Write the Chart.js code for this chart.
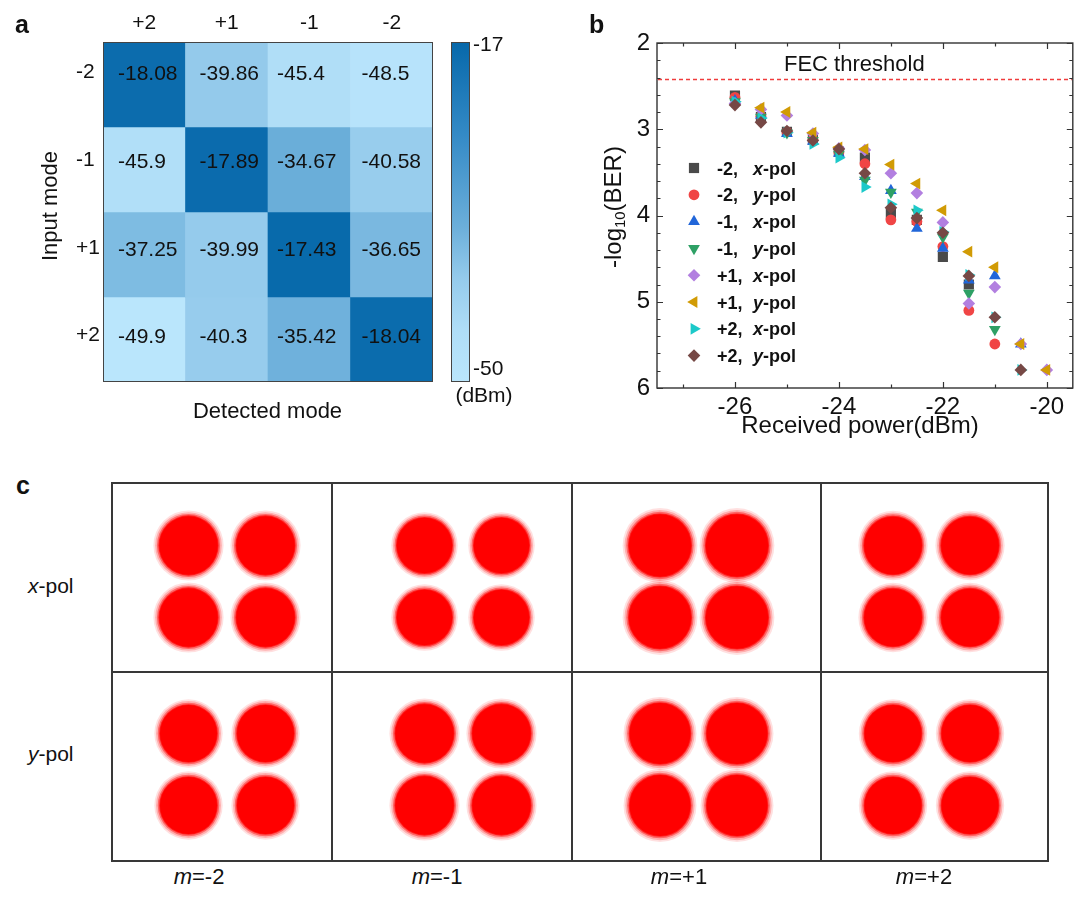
<!DOCTYPE html>
<html><head><meta charset="utf-8">
<script src="https://cdn.jsdelivr.net/npm/chart.js"></script>
<style>
html,body{margin:0;padding:0;background:#fff;}
#root{position:relative;width:1080px;height:905px;overflow:hidden;background:#fff;font-family:Arial,"Liberation Sans",Helvetica,sans-serif;color:#111;}
canvas{position:absolute;display:block;}
.t{position:absolute;white-space:nowrap;line-height:1;}
.t sub{font-size:0.62em;line-height:0;vertical-align:-0.28em;}
.ln{position:absolute;background:#383838;z-index:5;}
</style></head>
<body><div id="root"></div>
<script>
// ================= DATA =================
// Panel a: received power (dBm); rows = input mode, columns = detected mode
const detectedModes = ['+2', '+1', '-1', '-2'];
const inputModes = ['-2', '-1', '+1', '+2'];
const powerInputM2 = [-18.08, -39.86, -45.4, -48.5];
const powerInputM1 = [-45.9, -17.89, -34.67, -40.58];
const powerInputP1 = [-37.25, -39.99, -17.43, -36.65];
const powerInputP2 = [-49.9, -40.3, -35.42, -18.04];
const colorbarTop = -17, colorbarBottom = -50;

// Panel b: -log10(BER) versus received power (dBm)
const receivedPower = [-26, -25.5, -25, -24.5, -24, -23.5, -23, -22.5, -22, -21.5, -21, -20.5, -20];
const berM2x = [2.61, 2.86, 3.03, 3.12, 3.26, 3.33, 3.98, 4.05, 4.48, 4.80, null, null, null];
const berM2y = [2.63, 2.85, 3.03, 3.12, 3.27, 3.40, 4.05, 4.07, 4.36, 5.10, 5.49, null, null];
const berM1x = [2.67, 2.84, 3.05, 3.14, 3.28, 3.55, 3.71, 4.15, 4.38, 4.75, 4.70, 5.49, null];
const berM1y = [2.68, 2.86, 3.04, 3.13, 3.29, 3.59, 3.73, 3.96, 4.25, 4.90, 5.32, null, null];
const berP1x = [2.70, 2.77, 2.84, 3.05, 3.22, 3.24, 3.51, 3.74, 4.08, 5.02, 4.83, 5.49, 5.79];
const berP1y = [null, 2.75, 2.80, 3.04, 3.21, 3.23, 3.41, 3.63, 3.94, 4.42, 4.60, 5.49, 5.79];
const berP2x = [2.68, 2.87, 3.04, 3.17, 3.33, 3.67, 3.87, 3.94, 4.19, 4.69, 5.18, 5.79, null];
const berP2y = [2.72, 2.92, 3.02, 3.13, 3.23, 3.51, 3.91, 4.03, 4.20, 4.70, 5.18, 5.79, null];
const seriesModes = ['-2', '-2', '-1', '-1', '+1', '+1', '+2', '+2'];
const seriesPols = ['x', 'y', 'x', 'y', 'x', 'y', 'x', 'y'];
const fecThreshold = 2.42;
const xMajorTicks = [-26, -24, -22, -20];
const xMinorTicks = [-27, -25, -23, -21];
const yMajorTicks = [2, 3, 4, 5, 6];

// Panel c: QPSK constellations
const constModes = ['-2', '-1', '+1', '+2'];
const polRows = ['x', 'y'];
const symbolI = [-1, 1, -1, 1];
const symbolQ = [1, 1, -1, -1];
const spreadXpol = [0.76, 0.72, 0.81, 0.75];
const spreadYpol = [0.74, 0.76, 0.79, 0.74];

// ================= STYLE / LAYOUT =================
Chart.defaults.font.family = 'Arial, "Liberation Sans", Helvetica, sans-serif';
Chart.defaults.color = '#111';
const root = document.getElementById('root');

function mkCanvas(left, top, w, h, z) {
  const c = document.createElement('canvas');
  c.width = w; c.height = h;
  c.style.left = left + 'px'; c.style.top = top + 'px';
  c.style.width = w + 'px'; c.style.height = h + 'px';
  if (z) c.style.zIndex = z;
  root.appendChild(c);
  return c;
}
function addText(html, x, baseline, size, o) {
  o = o || {};
  const d = document.createElement('div');
  d.className = 't'; d.innerHTML = html;
  d.style.fontSize = size + 'px';
  if (o.bold) d.style.fontWeight = 'bold';
  d.style.left = x + 'px';
  d.style.top = (baseline - 0.8465 * size) + 'px';
  if (o.center) d.style.transform = 'translateX(-50%)';
  root.appendChild(d);
  return d;
}
function addRotText(html, cx, cy, size) {
  const d = document.createElement('div');
  d.className = 't'; d.innerHTML = html;
  d.style.fontSize = size + 'px';
  d.style.left = cx + 'px'; d.style.top = cy + 'px';
  d.style.transform = 'translate(-50%,-50%) rotate(-90deg)';
  root.appendChild(d);
  return d;
}
function addLine(x, y, w, h) {
  const d = document.createElement('div');
  d.className = 'ln';
  d.style.left = x + 'px'; d.style.top = y + 'px';
  d.style.width = w + 'px'; d.style.height = h + 'px';
  root.appendChild(d);
}

// colour map for panel a
const cmapStops = [
  [-50, [186, 230, 252]], [-45, [175, 221, 247]], [-40, [149, 203, 236]],
  [-35, [108, 175, 218]], [-26, [52, 138, 198]], [-17, [6, 104, 170]]
];
function colorFor(v) {
  if (v <= cmapStops[0][0]) return 'rgb(' + cmapStops[0][1].join(',') + ')';
  for (let i = 1; i < cmapStops.length; i++) {
    if (v <= cmapStops[i][0]) {
      const [v0, c0] = cmapStops[i - 1], [v1, c1] = cmapStops[i];
      const t = (v - v0) / (v1 - v0);
      return 'rgb(' + c0.map((c, k) => Math.round(c + (c1[k] - c) * t)).join(',') + ')';
    }
  }
  return 'rgb(' + cmapStops[cmapStops.length - 1][1].join(',') + ')';
}

// ================= PANEL A =================
const powerRows = [powerInputM2, powerInputM1, powerInputP1, powerInputP2];
const cellTextInset = [15, 14, 9, 11];
const rowTextDrift = [-12, -9.5, -6.5, -4.5];   // px, label placement within a row
const CELL_H = 85;
const heatPlugin = {
  id: 'heatPlugin',
  afterDatasetsDraw(chart) {
    const ctx = chart.ctx, a = chart.chartArea;
    ctx.save();
    ctx.font = '21px Arial, "Liberation Sans", sans-serif';
    ctx.fillStyle = '#111';
    ctx.textAlign = 'left';
    ctx.textBaseline = 'alphabetic';
    powerRows.forEach((row, r) => {
      const meta = chart.getDatasetMeta(r);
      row.forEach((v, c) => {
        const el = meta.data[c];
        const p = el.getProps(['x', 'y', 'base', 'width'], true);
        const cy = (p.y + p.base) / 2;
        ctx.fillText(String(v), p.x - p.width / 2 + cellTextInset[c], cy + rowTextDrift[r] + 7.5);
      });
    });
    // frame
    ctx.strokeStyle = '#444'; ctx.lineWidth = 1;
    ctx.strokeRect(a.left + 0.5, a.top + 0.5, a.right - a.left - 1, a.bottom - a.top - 1);
    // colour bar
    const bx = 451, bw = 19, by0 = a.top, by1 = a.bottom;
    const g = ctx.createLinearGradient(0, by1, 0, by0);
    cmapStops.forEach(([v, c]) => g.addColorStop((v - colorbarBottom) / (colorbarTop - colorbarBottom), 'rgb(' + c.join(',') + ')'));
    ctx.fillStyle = g;
    ctx.fillRect(bx, by0, bw, by1 - by0);
    ctx.strokeRect(bx + 0.5, by0 + 0.5, bw - 1, by1 - by0 - 1);
    ctx.restore();
  }
};
new Chart(mkCanvas(0, 0, 560, 440), {
  type: 'bar',
  data: {
    labels: detectedModes,
    datasets: inputModes.map((m, r) => ({
      label: m,
      data: detectedModes.map(() => [r, r + 1]),
      backgroundColor: powerRows[r].map(colorFor),
      borderWidth: 0,
      barPercentage: 1,
      categoryPercentage: 1,
      grouped: false
    }))
  },
  options: {
    responsive: false, animation: false, devicePixelRatio: 1,
    layout: { padding: { left: 76, top: 0, right: 127, bottom: 58 } },
    plugins: { legend: { display: false }, tooltip: { enabled: false } },
    scales: {
      x: {
        type: 'category', position: 'top', offset: true,
        grid: { display: false, drawTicks: false }, border: { display: false },
        ticks: { font: { size: 21 }, color: '#111', padding: 6 },
        afterFit(s) { s.height = 42; }
      },
      y: {
        type: 'linear', min: 0, max: 4, reverse: true,
        grid: { display: false, drawTicks: false }, border: { display: false },
        afterBuildTicks(s) { s.ticks = inputModes.map((_, i) => ({ value: i + 0.5 + rowTextDrift[i] / CELL_H })); },
        ticks: { font: { size: 21 }, color: '#111', padding: 0, crossAlign: 'far', callback: (v, i) => inputModes[i] },
        afterFit(s) { s.width = 27; }
      }
    }
  },
  plugins: [heatPlugin]
});
addText('a', 15, 33, 25, { bold: true });
addText('Detected mode', 267.5, 419, 22, { center: true });
addRotText('Input mode', 50, 206, 22);
addText(String(colorbarTop), 473, 51, 21);
addText(String(colorbarBottom), 473, 374.5, 21);
addText('(dBm)', 484, 401.5, 21, { center: true });

// ================= PANEL B =================
const berSeries = [berM2x, berM2y, berM1x, berM1y, berP1x, berP1y, berP2x, berP2y];
const seriesStyle = [
  { color: '#4a4a4a', style: 'rect', rot: 0, r: 7.2 },
  { color: '#f04545', style: 'circle', rot: 0, r: 5.4 },
  { color: '#2166d9', style: 'triangle', rot: 0, r: 6.8 },
  { color: '#2ea065', style: 'triangle', rot: 180, r: 6.8 },
  { color: '#b27fe0', style: 'rectRot', rot: 0, r: 6.3 },
  { color: '#d19b05', style: 'triangle', rot: -90, r: 6.8 },
  { color: '#1cc9c9', style: 'triangle', rot: 90, r: 6.8 },
  { color: '#764845', style: 'rectRot', rot: 0, r: 6.3 }
];
const B_LEFT = 560;
function drawMarker(ctx, st, x, y) {
  ctx.fillStyle = st.color;
  if (Chart.helpers && Chart.helpers.drawPoint) {
    Chart.helpers.drawPoint(ctx, { pointStyle: st.style, rotation: st.rot, radius: st.r, borderWidth: 0 }, x, y);
  } else {
    ctx.beginPath(); ctx.arc(x, y, st.r, 0, Math.PI * 2); ctx.fill();
  }
}
const berPlugin = {
  id: 'berPlugin',
  afterDraw(chart) {
    const ctx = chart.ctx, a = chart.chartArea, sx = chart.scales.x, sy = chart.scales.y;
    ctx.save();
    // FEC threshold line
    const fy = Math.round(sy.getPixelForValue(fecThreshold)) + 0.5;
    ctx.strokeStyle = 'rgb(240,60,60)'; ctx.lineWidth = 1.3; ctx.setLineDash([4, 3]);
    ctx.beginPath(); ctx.moveTo(a.left + 1, fy); ctx.lineTo(a.right - 1, fy); ctx.stroke();
    ctx.setLineDash([]);
    // frame + inward ticks
    ctx.strokeStyle = '#333'; ctx.lineWidth = 1.4;
    ctx.strokeRect(a.left, a.top, a.right - a.left, a.bottom - a.top);
    ctx.lineWidth = 1.2;
    ctx.beginPath();
    const xt = xMajorTicks.map(v => [v, 6]).concat(xMinorTicks.map(v => [v, 3.5]));
    xt.forEach(([v, L]) => {
      const px = Math.round(sx.getPixelForValue(v)) + 0.5;
      ctx.moveTo(px, a.bottom); ctx.lineTo(px, a.bottom - L);
      ctx.moveTo(px, a.top); ctx.lineTo(px, a.top + L);
    });
    for (let k = 0; k <= 20; k++) {
      const v = yMajorTicks[0] + k * 0.2;
      const L = (k % 5 === 0) ? 6 : 3.5;
      const py = Math.round(sy.getPixelForValue(v)) + 0.5;
      ctx.moveTo(a.left, py); ctx.lineTo(a.left + L, py);
      ctx.moveTo(a.right, py); ctx.lineTo(a.right - L, py);
    }
    ctx.stroke();
    // legend
    const mx = 694 - B_LEFT, tx = 717 - B_LEFT, ix = 753 - B_LEFT;
    seriesStyle.forEach((st, i) => {
      const ry = 168 + i * 26.8;
      drawMarker(ctx, st, mx, ry);
      ctx.fillStyle = '#111';
      ctx.textBaseline = 'alphabetic'; ctx.textAlign = 'left';
      ctx.font = 'bold 18px Arial, "Liberation Sans", sans-serif';
      ctx.fillText(seriesModes[i] + ',', tx, ry + 6.5);
      ctx.font = 'italic bold 18px Arial, "Liberation Sans", sans-serif';
      ctx.fillText(seriesPols[i], ix, ry + 6.5);
      const w = ctx.measureText(seriesPols[i]).width;
      ctx.font = 'bold 18px Arial, "Liberation Sans", sans-serif';
      ctx.fillText('-pol', ix + w, ry + 6.5);
    });
    ctx.restore();
  }
};
new Chart(mkCanvas(B_LEFT, 0, 520, 450), {
  type: 'scatter',
  data: {
    datasets: berSeries.map((ys, i) => ({
      label: seriesModes[i] + ', ' + seriesPols[i] + '-pol',
      data: receivedPower.map((x, k) => ({ x: x, y: ys[k] })).filter(p => p.y !== null),
      pointStyle: seriesStyle[i].style,
      rotation: seriesStyle[i].rot,
      pointRadius: seriesStyle[i].r,
      pointBackgroundColor: seriesStyle[i].color,
      pointBorderWidth: 0,
      showLine: false,
      order: berSeries.length - i
    }))
  },
  options: {
    responsive: false, animation: false, devicePixelRatio: 1,
    layout: { padding: { left: 0, top: 43, right: 5, bottom: 0 } },
    plugins: { legend: { display: false }, tooltip: { enabled: false } },
    scales: {
      x: {
        type: 'linear', min: -27.5, max: -19.5,
        grid: { display: false, drawTicks: false }, border: { display: false },
        afterBuildTicks(s) { s.ticks = xMajorTicks.map(v => ({ value: v })); },
        ticks: { font: { size: 24 }, color: '#111', padding: 5 },
        afterFit(s) { s.height = 62; }
      },
      y: {
        type: 'linear', min: 2, max: 6, reverse: true,
        grid: { display: false, drawTicks: false }, border: { display: false },
        afterBuildTicks(s) { s.ticks = yMajorTicks.map(v => ({ value: v })); },
        ticks: { font: { size: 24 }, color: '#111', padding: 7 },
        afterFit(s) { s.width = 97; }
      }
    }
  },
  plugins: [berPlugin]
});
addText('b', 589, 33, 25, { bold: true });
addText('FEC threshold', 784, 71.5, 22);
addRotText('-log<sub>10</sub>(BER)', 613, 207, 24);
addText('Received power(dBm)', 860, 433, 24, { center: true });

// ================= PANEL C =================
const colEdges = [112, 332, 572, 821, 1048];
const rowEdges = [483, 672, 861];
const colShift = [5, 11, 2, -3];
const rowShift = [4, 3];
const unitX = 38.5, unitY = 36;
const spreads = [spreadXpol, spreadYpol];
const haloLayers = [
  { k: 1.2, a: 0.12 }, { k: 1.14, a: 0.22 }, { k: 1.08, a: 0.42 },
  { k: 1.03, a: 0.7 }, { k: 1.0, a: 1 }
];
for (let r = 0; r < 2; r++) {
  for (let c = 0; c < 4; c++) {
    const x0 = colEdges[c] + 1, x1 = colEdges[c + 1] - 1;
    const y0 = rowEdges[r] + 1, y1 = rowEdges[r + 1] - 1;
    const w = x1 - x0, h = y1 - y0;
    const sp = spreads[r][c];
    new Chart(mkCanvas(x0 + colShift[c], y0 + rowShift[r], w, h), {
      type: 'scatter',
      data: {
        datasets: haloLayers.map((L, li) => ({
          data: symbolI.map((iv, k) => ({ x: iv, y: symbolQ[k] })),
          pointRadius: (ctx) => {
            const s = ctx.chart.scales.x;
            return Math.abs(s.getPixelForValue(sp * L.k) - s.getPixelForValue(0));
          },
          pointBackgroundColor: 'rgba(255,0,0,' + L.a + ')',
          pointBorderWidth: 0,
          order: haloLayers.length - li
        }))
      },
      options: {
        responsive: false, animation: false, devicePixelRatio: 1,
        layout: { padding: 0 },
        plugins: { legend: { display: false }, tooltip: { enabled: false } },
        scales: {
          x: { type: 'linear', display: false, min: -(w / 2) / unitX, max: (w / 2) / unitX },
          y: { type: 'linear', display: false, min: -(h / 2) / unitY, max: (h / 2) / unitY }
        }
      }
    });
  }
}
// grid lines of panel c
colEdges.forEach(x => addLine(x - 1, rowEdges[0] - 1, 2, rowEdges[2] - rowEdges[0] + 2));
rowEdges.forEach(y => addLine(colEdges[0] - 1, y - 1, colEdges[4] - colEdges[0] + 2, 2));
addText('c', 16, 494, 25, { bold: true });
const rowLabelBase = [592.5, 760.5];
polRows.forEach((p, r) => addText('<i>' + p + '</i>-pol', 28, rowLabelBase[r], 21));
const colLabelX = [199, 437, 679, 924];
constModes.forEach((m, c) => addText('<i>m</i>=' + m, colLabelX[c], 885, 22, { center: true }));
</script>
</body></html>
